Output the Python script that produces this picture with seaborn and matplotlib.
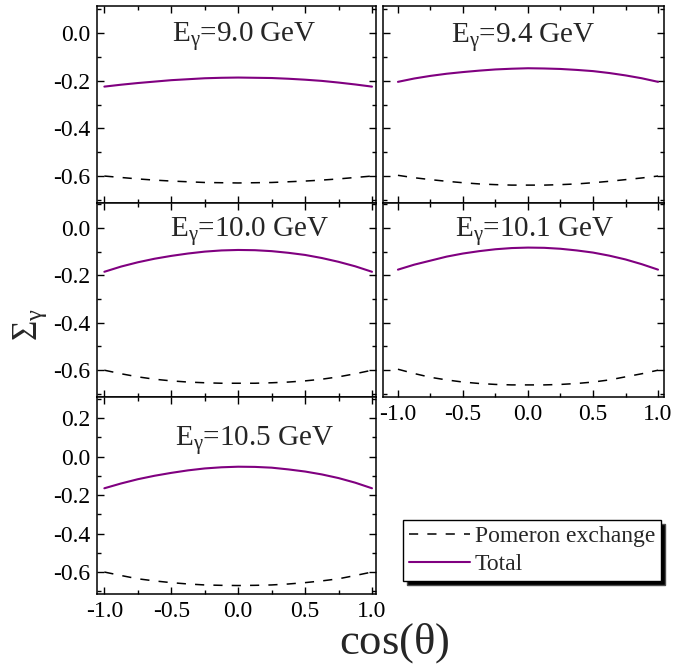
import numpy as np
import pandas as pd
import matplotlib
matplotlib.use("Agg")
import matplotlib.pyplot as plt
from matplotlib.ticker import MultipleLocator, FormatStrFormatter
from matplotlib.lines import Line2D
import seaborn as sns

# Photon-beam asymmetry vs cos(theta) at five photon energies
cos_theta = [-1.0, -0.875, -0.75, -0.625, -0.5, -0.375, -0.25, -0.125, 0.0,
             0.125, 0.25, 0.375, 0.5, 0.625, 0.75, 0.875, 1.0]
energies = ["9.0", "9.4", "10.0", "10.1", "10.5"]

total_9p0 = [-0.225, -0.217, -0.210, -0.204, -0.198, -0.194, -0.190, -0.188, -0.187,
             -0.188, -0.189, -0.192, -0.196, -0.201, -0.208, -0.216, -0.225]
pomeron_9p0 = [-0.600, -0.606, -0.612, -0.617, -0.621, -0.624, -0.627, -0.628, -0.629,
               -0.628, -0.627, -0.624, -0.621, -0.617, -0.612, -0.606, -0.600]

total_9p4 = [-0.205, -0.191, -0.180, -0.171, -0.164, -0.158, -0.153, -0.150, -0.148,
             -0.149, -0.151, -0.155, -0.160, -0.168, -0.178, -0.190, -0.205]
pomeron_9p4 = [-0.597, -0.607, -0.615, -0.622, -0.628, -0.633, -0.636, -0.638, -0.638,
               -0.638, -0.636, -0.633, -0.628, -0.622, -0.615, -0.608, -0.600]

total_10p0 = [-0.185, -0.163, -0.145, -0.130, -0.118, -0.108, -0.100, -0.095, -0.093,
              -0.094, -0.098, -0.105, -0.114, -0.127, -0.143, -0.162, -0.185]
pomeron_10p0 = [-0.600, -0.615, -0.628, -0.638, -0.645, -0.650, -0.653, -0.655, -0.655,
                -0.655, -0.653, -0.650, -0.645, -0.638, -0.628, -0.615, -0.600]

total_10p1 = [-0.176, -0.155, -0.138, -0.121, -0.108, -0.098, -0.090, -0.085, -0.083,
              -0.084, -0.088, -0.095, -0.104, -0.117, -0.133, -0.153, -0.176]
pomeron_10p1 = [-0.596, -0.614, -0.630, -0.641, -0.650, -0.656, -0.660, -0.662, -0.662,
                -0.662, -0.660, -0.656, -0.650, -0.641, -0.628, -0.615, -0.600]

total_10p5 = [-0.165, -0.140, -0.118, -0.100, -0.085, -0.072, -0.062, -0.056, -0.053,
              -0.054, -0.058, -0.067, -0.078, -0.093, -0.112, -0.136, -0.165]
pomeron_10p5 = [-0.600, -0.618, -0.635, -0.646, -0.655, -0.662, -0.667, -0.669, -0.670,
                -0.669, -0.667, -0.662, -0.655, -0.646, -0.635, -0.618, -0.600]

totals = [total_9p0, total_9p4, total_10p0, total_10p1, total_10p5]
pomerons = [pomeron_9p0, pomeron_9p4, pomeron_10p0, pomeron_10p1, pomeron_10p5]

legend_labels = ["Pomeron exchange", "Total"]

rows = []
for e, tot, pom in zip(energies, totals, pomerons):
    for c, t, p in zip(cos_theta, tot, pom):
        rows.append({"E": e, "cos": c, "value": p, "curve": legend_labels[0]})
        rows.append({"E": e, "cos": c, "value": t, "curve": legend_labels[1]})
df = pd.DataFrame(rows)

sns.set_theme(style="ticks")
plt.rcParams["font.family"] = ["Liberation Serif", "DejaVu Serif"]
plt.rcParams["mathtext.fontset"] = "custom"
plt.rcParams["mathtext.rm"] = "Liberation Serif"
plt.rcParams["mathtext.it"] = "Liberation Serif:italic"
plt.rcParams["axes.unicode_minus"] = False

PURPLE = "#800080"
W, H = 675, 668
fig = plt.figure(figsize=(W / 100, H / 100), dpi=100)


def box(x0, x1, y0, y1):
    return [x0 / W, 1 - y1 / H, (x1 - x0) / W, (y1 - y0) / H]


panels = [
    # (energy, rect, xlim, ylim, show x labels, show y labels, title pos)
    ("9.0", box(97, 376, 6, 203), (-1.055, 1.03), (-0.713, 0.113), False, True, (0.527, 0.845)),
    ("9.4", box(383, 664, 6, 203), (-1.115, 1.046), (-0.713, 0.113), False, False, (0.50, 0.838)),
    ("10.0", box(97, 376, 203, 397), (-1.055, 1.03), (-0.713, 0.105), False, True, (0.548, 0.853)),
    ("10.1", box(383, 664, 203, 397), (-1.115, 1.046), (-0.713, 0.105), True, False, (0.54, 0.853)),
    ("10.5", box(97, 376, 397, 594), (-1.055, 1.03), (-0.714, 0.309), True, True, (0.566, 0.78)),
]

for e, rect, xlim, ylim, showx, showy, tpos in panels:
    ax = fig.add_axes(rect)
    sub = df[df["E"] == e]
    sns.lineplot(data=sub[sub["curve"] == legend_labels[0]], x="cos", y="value",
                 ax=ax, color="black", lw=1.1, legend=False)
    ax.lines[-1].set_dashes((6, 6))
    sns.lineplot(data=sub[sub["curve"] == legend_labels[1]], x="cos", y="value",
                 ax=ax, color=PURPLE, lw=1.5, legend=False)
    ax.set_xlim(*xlim)
    ax.set_ylim(*ylim)
    ax.set_xlabel("")
    ax.set_ylabel("")
    ax.xaxis.set_major_locator(MultipleLocator(0.5))
    ax.xaxis.set_minor_locator(MultipleLocator(0.25))
    ax.yaxis.set_major_locator(MultipleLocator(0.2))
    ax.yaxis.set_minor_locator(MultipleLocator(0.1))
    ax.xaxis.set_major_formatter(FormatStrFormatter("%.1f"))
    ax.yaxis.set_major_formatter(FormatStrFormatter("%.1f"))
    ax.tick_params(which="both", direction="in", top=True, right=True,
                   colors="black", width=1.0, labelsize=17)
    ax.tick_params(which="major", length=5, pad=5)
    ax.tick_params(which="minor", length=3)
    ax.tick_params(labelbottom=showx, labelleft=showy)
    for s in ax.spines.values():
        s.set_linewidth(1.1)
        s.set_color("black")
    ax.text(tpos[0], tpos[1], r"$\mathregular{E_{\gamma}}$=" + e + " GeV",
            transform=ax.transAxes, ha="center", va="center", fontsize=21)

fig.text(30 / W, 1 - 325 / H, r"$\mathregular{\Sigma_{\gamma}}$", rotation=90,
         ha="center", va="center", fontsize=25)
fig.text(394 / W, 1 - 643 / H, r"cos($\mathregular{\theta}$)",
         ha="center", va="center", fontsize=32)

handles = [Line2D([], [], color="black", lw=1.1, dashes=(6, 6)),
           Line2D([], [], color=PURPLE, lw=1.5)]
fig.legend(handles, legend_labels, loc="upper left",
           bbox_to_anchor=(403 / W, 1 - 520 / H), borderaxespad=0,
           frameon=True, fancybox=False, edgecolor="black", framealpha=1,
           shadow={"ox": 3, "oy": -3, "facecolor": "black", "alpha": 1},
           fontsize=17, handlelength=2.6, handletextpad=0.2, labelspacing=0.25,
           borderpad=0.25)

fig.savefig("out.png", dpi=100)
